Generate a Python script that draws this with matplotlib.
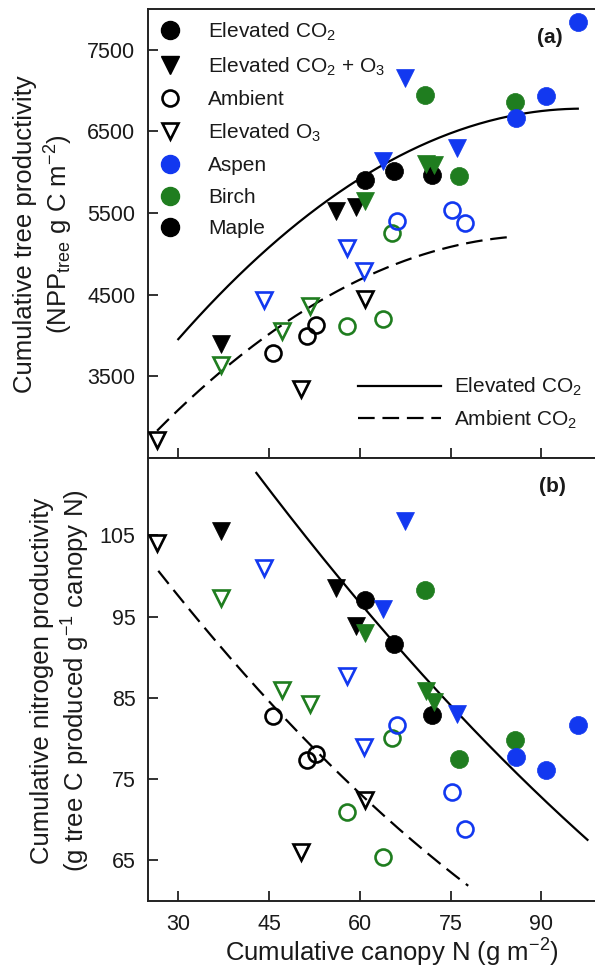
import numpy as np
import matplotlib
matplotlib.use("Agg")
import matplotlib.pyplot as plt
from matplotlib.lines import Line2D

plt.rcParams['font.family'] = ['Liberation Sans', 'DejaVu Sans']
plt.rcParams['mathtext.fontset'] = 'custom'
plt.rcParams['mathtext.rm'] = 'Liberation Sans'
plt.rcParams['mathtext.it'] = 'Liberation Sans:italic'
plt.rcParams['mathtext.bf'] = 'Liberation Sans:bold'
plt.rcParams['mathtext.default'] = 'regular'

# ---------------- data ----------------
species = ["Aspen", "Birch", "Maple"]
treatments = ["Elevated CO2", "Elevated CO2 + O3", "Ambient", "Elevated O3"]

# Elevated CO2 (filled circles)
eco2_canopyN = {"Maple": [60.9, 65.6, 71.9], "Aspen": [96.0, 90.8, 85.8], "Birch": [70.8, 85.6, 76.3]}
eco2_npp = {"Maple": [5910, 6010, 5970], "Aspen": [7846, 6930, 6665], "Birch": [6950, 6865, 5950]}
eco2_nprod = {"Maple": [97.0, 91.6, 82.9], "Aspen": [81.6, 76.1, 77.7], "Birch": [98.2, 79.8, 77.5]}

# Elevated CO2 + O3 (filled triangles)
eco2o3_canopyN = {"Maple": [56.0, 59.4, 37.1], "Aspen": [67.5, 63.9, 76.1], "Birch": [60.9, 70.9, 72.2]}
eco2o3_npp = {"Maple": [5520, 5580, 3900], "Aspen": [7155, 6135, 6300], "Birch": [5645, 6100, 6085]}
eco2o3_nprod = {"Maple": [98.5, 93.8, 105.5], "Aspen": [106.7, 95.9, 83.0], "Birch": [93.0, 85.8, 84.5]}

# Ambient (open circles)
amb_canopyN = {"Maple": [45.6, 51.3, 52.8], "Aspen": [66.1, 75.2, 77.4], "Birch": [65.3, 57.9, 63.9]}
amb_npp = {"Maple": [3790, 4000, 4135], "Aspen": [5400, 5540, 5380], "Birch": [5255, 4120, 4205]}
amb_nprod = {"Maple": [82.8, 77.3, 78.1], "Aspen": [81.6, 73.4, 68.9], "Birch": [80.1, 70.9, 65.4]}

# Elevated O3 (open triangles)
eo3_canopyN = {"Maple": [26.5, 50.3, 60.9], "Aspen": [44.1, 57.9, 60.7], "Birch": [37.1, 47.1, 51.7]}
eo3_npp = {"Maple": [2725, 3340, 4450], "Aspen": [4440, 5075, 4785], "Birch": [3645, 4050, 4360]}
eo3_nprod = {"Maple": [104.1, 66.0, 72.4], "Aspen": [101.0, 87.7, 78.9], "Birch": [97.3, 85.9, 84.2]}

# fitted curves
fitA_elev_x = [30.0, 45.7, 50.0, 60.9, 66.3, 85.6, 96.0]
fitA_elev_y = [3930, 5174, 5419, 5930, 6166, 6704, 6786]
fitA_amb_x = [26.5, 37.1, 51.7, 60.7, 70.8, 84.7]
fitA_amb_y = [2828, 3563, 4379, 4685, 4991, 5215]
fitB_elev_x = [42.9, 50.3, 65.6, 71.3, 85.0, 97.6]
fitB_elev_y = [113.5, 104.3, 92.0, 87.1, 76.9, 67.2]
fitB_amb_x = [26.7, 50.3, 58.7, 77.9]
fitB_amb_y = [100.6, 80.5, 74.0, 61.9]

xticks = [30, 45, 60, 75, 90]
yticksA = [3500, 4500, 5500, 6500, 7500]
yticksB = [65, 75, 85, 95, 105]

# ---------------- style ----------------
colors = {"Aspen": "#1238f0", "Birch": "#1f7d1f", "Maple": "black"}
txtc = "#1a1a1a"
W, H = 595, 973
fig = plt.figure(figsize=(W / 100, H / 100), dpi=100)
L, R = 148, 602
ax1 = fig.add_axes([L / W, 1 - 458 / H, (R - L) / W, 449 / H])
ax2 = fig.add_axes([L / W, 1 - 901 / H, (R - L) / W, 443 / H])

ms_f, ms_o, mew = 13, 11.5, 1.9
groups = [
    (eco2_canopyN, eco2_npp, eco2_nprod, 'o', True),
    (eco2o3_canopyN, eco2o3_npp, eco2o3_nprod, 'v', True),
    (amb_canopyN, amb_npp, amb_nprod, 'o', False),
    (eo3_canopyN, eo3_npp, eo3_nprod, 'v', False),
]


def smooth(xs, ys):
    c = np.polyfit(xs, ys, 2)
    xx = np.linspace(min(xs), max(xs), 200)
    return xx, np.polyval(c, xx)


for ax, key in ((ax1, 1), (ax2, 2)):
    for g in groups:
        xs_d, a_d, b_d, mk, filled = g
        yd = a_d if key == 1 else b_d
        for sp in ["Maple", "Birch", "Aspen"]:
            c = colors[sp]
            if filled:
                ax.plot(xs_d[sp], yd[sp], ls='none', marker=mk, ms=ms_f, mfc=c, mec=c, mew=0.5, zorder=3)
            else:
                ax.plot(xs_d[sp], yd[sp], ls='none', marker=mk, ms=ms_o, mfc='none', mec=c, mew=mew, zorder=3)

dash = (0, (7.5, 3.5))
xx, yy = smooth(fitA_elev_x, fitA_elev_y)
ax1.plot(xx, yy, color='black', lw=1.6, zorder=2)
xx, yy = smooth(fitA_amb_x, fitA_amb_y)
ax1.plot(xx, yy, color='black', lw=1.6, ls=dash, zorder=2)
xx, yy = smooth(fitB_elev_x, fitB_elev_y)
ax2.plot(xx, yy, color='black', lw=1.6, zorder=2)
xx, yy = smooth(fitB_amb_x, fitB_amb_y)
ax2.plot(xx, yy, color='black', lw=1.6, ls=dash, zorder=2)

ax1.set_xlim(25, 100)
ax2.set_xlim(25, 100)
ax1.set_ylim(2500, 8000)
ax2.set_ylim(60, 114.5)
for ax in (ax1, ax2):
    ax.set_xticks(xticks)
    for s in ax.spines.values():
        s.set_linewidth(1.4)
        s.set_color('#222222')
    ax.tick_params(direction='in', length=7, width=1.3, color='#222222',
                   labelsize=15.5, labelcolor=txtc, pad=9)
ax1.set_yticks(yticksA)
ax2.set_yticks(yticksB)
ax1.tick_params(axis='x', labelbottom=False)
ax2.set_xticklabels([str(v) for v in xticks])

fs_leg = 15
handles = [
    Line2D([], [], ls='none', marker='o', ms=ms_f, mfc='black', mec='black'),
    Line2D([], [], ls='none', marker='v', ms=ms_f, mfc='black', mec='black'),
    Line2D([], [], ls='none', marker='o', ms=ms_o, mfc='none', mec='black', mew=mew),
    Line2D([], [], ls='none', marker='v', ms=ms_o, mfc='none', mec='black', mew=mew),
    Line2D([], [], ls='none', marker='o', ms=ms_f, mfc=colors["Aspen"], mec=colors["Aspen"]),
    Line2D([], [], ls='none', marker='o', ms=ms_f, mfc=colors["Birch"], mec=colors["Birch"]),
    Line2D([], [], ls='none', marker='o', ms=ms_f, mfc='black', mec='black'),
]
labels = ["Elevated CO$_2$", "Elevated CO$_2$ + O$_3$", "Ambient", "Elevated O$_3$",
          "Aspen", "Birch", "Maple"]
leg1 = ax1.legend(handles, labels, loc='upper left', bbox_to_anchor=(0, 1), frameon=False,
                  fontsize=fs_leg, handlelength=1.0, handletextpad=1.34, borderaxespad=0.1,
                  borderpad=0.45, labelspacing=0.6, labelcolor=txtc)
ax1.add_artist(leg1)
lh = [Line2D([], [], color='black', lw=1.6), Line2D([], [], color='black', lw=1.6, ls=dash)]
ax1.legend(lh, ["Elevated CO$_2$", "Ambient CO$_2$"], loc='upper left',
           bbox_to_anchor=((358 - L) / (R - L), (458 - 376) / 449), frameon=False,
           fontsize=fs_leg, handlelength=4.0, handletextpad=0.6, borderaxespad=0, borderpad=0,
           labelspacing=0.5, labelcolor=txtc)

ax1.text((550 - L) / (R - L), (458 - 38) / 449, "(a)", transform=ax1.transAxes, ha='center',
         va='center', fontsize=15, fontweight='bold', color=txtc)
ax2.text((552 - L) / (R - L), (901 - 487) / 443, "(b)", transform=ax2.transAxes, ha='center',
         va='center', fontsize=15, fontweight='bold', color=txtc)

fig.text(44 / W, 1 - 234 / H, "Cumulative tree productivity\n(NPP$_{tree}$ g C m$^{-2}$)",
         rotation=90, ha='center', va='center', fontsize=18.5, color=txtc, linespacing=1.25,
         multialignment='center')
fig.text(61 / W, 1 - 681 / H,
         "Cumulative nitrogen productivity\n(g tree C produced g$^{-1}$ canopy N)",
         rotation=90, ha='center', va='center', fontsize=18.5, color=txtc, linespacing=1.25,
         multialignment='center')
fig.text(392 / W, 1 - 953 / H, "Cumulative canopy N (g m$^{-2}$)", ha='center', va='center',
         fontsize=18.5, color=txtc)

fig.savefig("out.png", dpi=100)
